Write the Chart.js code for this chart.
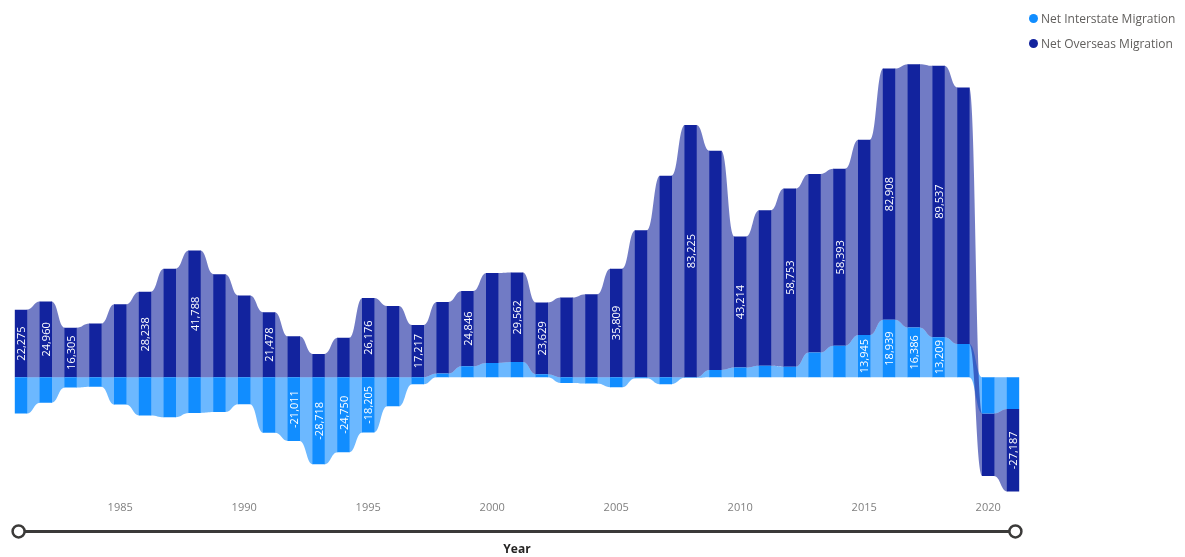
<!DOCTYPE html>
<html>
<head>
<meta charset="utf-8">
<title>Net migration</title>
<script src="https://cdn.jsdelivr.net/npm/chart.js@4.4.0/dist/chart.umd.min.js"></script>
<style>
  html, body { margin: 0; padding: 0; background: #fff; }
  #wrap { position: relative; width: 1185px; height: 557px; }
  #legend {
    position: absolute; top: 6px; left: 1029px;
    font: 12px "Segoe UI", "Open Sans", sans-serif; color: #605e5c;
  }
  .item { display: flex; align-items: center; height: 25px; white-space: nowrap; }
  .dot { width: 9px; height: 9px; border-radius: 50%; margin-right: 3px; }
</style>
</head>
<body>
<div id="wrap">
  <canvas id="migration-chart" width="1185" height="557"></canvas>
  <div id="legend"></div>
</div>
<script>
const years = [
  "1981", "1982", "1983", "1984", "1985", "1986", "1987", "1988", "1989", "1990",
  "1991", "1992", "1993", "1994", "1995", "1996", "1997", "1998", "1999", "2000",
  "2001", "2002", "2003", "2004", "2005", "2006", "2007", "2008", "2009", "2010",
  "2011", "2012", "2013", "2014", "2015", "2016", "2017", "2018", "2019", "2020",
  "2021"
];

const netInterstate = [
  -12000, -8400, -3400, -3100, -9000, -12600, -13200, -11800, -11500, -8900,
  -18300, -21011, -28718, -24750, -18205, -9600, -2300, 1200, 3600, 4700,
  5000, 1000, -1900, -2100, -3300, -300, -2300, -200, 2400, 3200,
  3800, 3500, 8200, 10400, 13945, 18939, 16386, 13209, 11000, -12000,
  -10500
];

const netOverseas = [
  22275, 24960, 16305, 17700, 24100, 28238, 35800, 41788, 34000, 27000,
  21478, 13500, 7700, 13000, 26176, 23500, 17217, 23600, 24846, 29700,
  29562, 23629, 26300, 27400, 35809, 48500, 66500, 83225, 72300, 43214,
  51300, 58753, 58900, 58393, 64400, 82908, 86900, 89537, 84600, -20600,
  -27187
];

// years whose value label is visible in the original
const interstateLabelYears = ["1992", "1993", "1994", "1995", "2015", "2016", "2017", "2018"];
const overseasLabelYears = [
  "1981", "1982", "1983", "1986", "1988", "1991", "1995", "1997", "1999", "2001",
  "2002", "2005", "2008", "2010", "2012", "2014", "2016", "2018", "2021"
];

const FONT = '"Segoe UI", "Open Sans", sans-serif';

// ribbons between neighbouring columns of the same series
const ribbonPlugin = {
  id: "ribbons",
  beforeDatasetsDraw(chart) {
    const ctx = chart.ctx;
    chart.data.datasets.forEach((ds, di) => {
      const bars = chart.getDatasetMeta(di).data;
      ctx.save();
      ctx.fillStyle = ds.ribbonColor;
      for (let i = 0; i < bars.length - 1; i++) {
        const a = bars[i].getProps(["x", "y", "base", "width"], true);
        const b = bars[i + 1].getProps(["x", "y", "base", "width"], true);
        const x1 = a.x + a.width / 2 - 0.5;
        const x2 = b.x - b.width / 2 + 0.5;
        const xm = (x1 + x2) / 2;
        const aTop = Math.min(a.y, a.base), aBot = Math.max(a.y, a.base);
        const bTop = Math.min(b.y, b.base), bBot = Math.max(b.y, b.base);
        ctx.beginPath();
        ctx.moveTo(x1, aTop);
        ctx.bezierCurveTo(xm, aTop, xm, bTop, x2, bTop);
        ctx.lineTo(x2, bBot);
        ctx.bezierCurveTo(xm, bBot, xm, aBot, x1, aBot);
        ctx.closePath();
        ctx.fill();
      }
      ctx.restore();
    });
  }
};

// rotated value labels inside the columns
const labelPlugin = {
  id: "barLabels",
  afterDatasetsDraw(chart) {
    const ctx = chart.ctx;
    chart.data.datasets.forEach((ds, di) => {
      const bars = chart.getDatasetMeta(di).data;
      ctx.save();
      ctx.fillStyle = "#ffffff";
      ctx.font = "11px " + FONT;
      ctx.textAlign = "center";
      ctx.textBaseline = "middle";
      bars.forEach((bar, i) => {
        if (!ds.labelYears.includes(years[i])) return;
        const p = bar.getProps(["x", "y", "base"], true);
        ctx.save();
        ctx.translate(p.x, (p.y + p.base) / 2);
        ctx.rotate(-Math.PI / 2);
        ctx.fillText(ds.data[i].toLocaleString("en-US"), 0, 1);
        ctx.restore();
      });
      ctx.restore();
    });
  }
};

// play-axis slider under the year labels
const sliderPlugin = {
  id: "slider",
  afterDraw(chart) {
    const ctx = chart.ctx;
    const area = chart.chartArea;
    const y = area.bottom + 39;
    const x1 = area.left + 10, x2 = area.right - 10;
    ctx.save();
    ctx.strokeStyle = "#3b3a39";
    ctx.lineWidth = 3;
    ctx.beginPath();
    ctx.moveTo(x1, y);
    ctx.lineTo(x2, y);
    ctx.stroke();
    ctx.fillStyle = "#ffffff";
    ctx.lineWidth = 2.5;
    [x1, x2].forEach((x) => {
      ctx.beginPath();
      ctx.arc(x, y, 6, 0, Math.PI * 2);
      ctx.fill();
      ctx.stroke();
    });
    ctx.restore();
  }
};

const chartData = {
  labels: years,
  datasets: [
    {
      label: "Net Interstate Migration",
      data: netInterstate,
      backgroundColor: "#118dff",
      ribbonColor: "rgba(17, 141, 255, 0.62)",
      labelYears: interstateLabelYears,
      barPercentage: 0.5,
      categoryPercentage: 1
    },
    {
      label: "Net Overseas Migration",
      data: netOverseas,
      backgroundColor: "#12239e",
      ribbonColor: "rgba(18, 35, 158, 0.6)",
      labelYears: overseasLabelYears,
      barPercentage: 0.5,
      categoryPercentage: 1
    }
  ]
};

const config = {
  type: "bar",
  data: chartData,
  plugins: [ribbonPlugin, labelPlugin, sliderPlugin],
  options: {
    responsive: false,
    animation: false,
    layout: { padding: { left: 8.6, right: 159.6, top: 56, bottom: 0 } },
    plugins: {
      legend: { display: false },
      tooltip: { enabled: false }
    },
    scales: {
      x: {
        stacked: true,
        grid: { display: false, drawTicks: false },
        border: { display: false },
        ticks: {
          autoSkip: false,
          maxRotation: 0,
          padding: 9,
          color: "#7f7f7f",
          font: { family: FONT, size: 11 },
          callback: function (value) {
            const y = this.getLabelForValue(value);
            return Number(y) % 5 === 0 ? y : "";
          }
        },
        title: {
          display: true,
          text: "Year",
          color: "#252423",
          font: { family: FONT, size: 12, weight: "bold" },
          padding: { top: 19, bottom: 0 }
        }
      },
      y: {
        stacked: true,
        display: false,
        min: -38000,
        max: 106000
      }
    }
  }
};

const chart = new Chart(document.getElementById("migration-chart").getContext("2d"), config);

const legend = document.getElementById("legend");
chartData.datasets.forEach((ds) => {
  const item = document.createElement("div");
  item.className = "item";
  const dot = document.createElement("span");
  dot.className = "dot";
  dot.style.background = ds.backgroundColor;
  item.appendChild(dot);
  item.appendChild(document.createTextNode(ds.label));
  legend.appendChild(item);
});
</script>
</body>
</html>
